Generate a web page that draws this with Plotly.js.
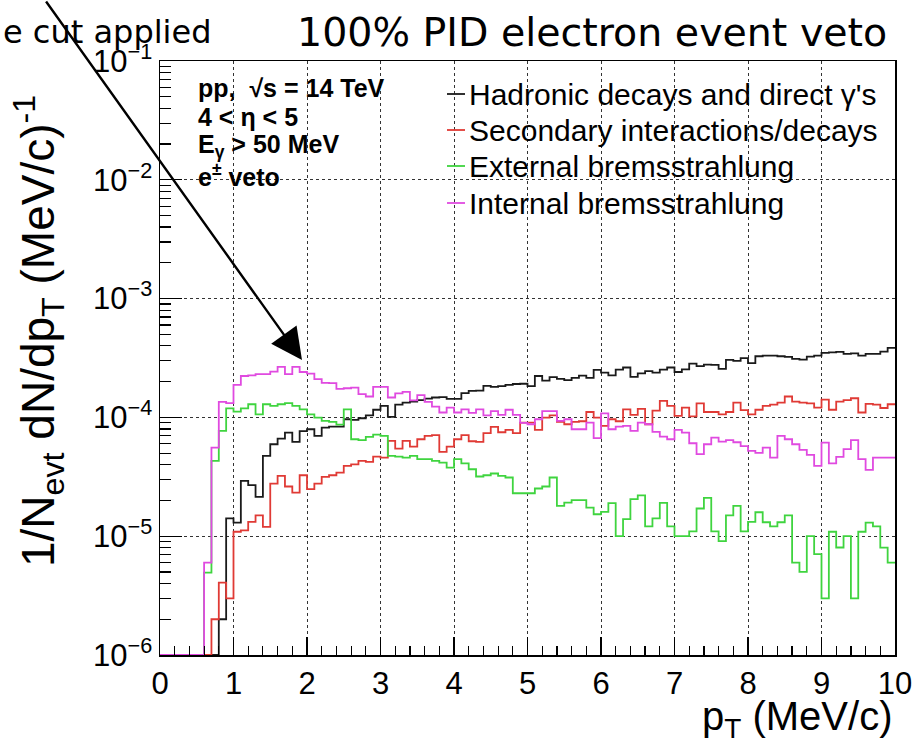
<!DOCTYPE html>
<html>
<head>
<meta charset="utf-8">
<script src="https://cdn.plot.ly/plotly-3.0.1.min.js"></script>
<style>
  html, body { margin: 0; padding: 0; background: #ffffff; }
  #chart { width: 916px; height: 750px; }
</style>
</head>
<body>
<div id="chart"></div>
<script>
// ---------------- DATA ----------------
// lower edges of the 100 pT bins (MeV/c), bin width 0.1
const binLowEdges = [
  0.0,0.1,0.2,0.3,0.4,0.5,0.6,0.7,0.8,0.9,
  1.0,1.1,1.2,1.3,1.4,1.5,1.6,1.7,1.8,1.9,
  2.0,2.1,2.2,2.3,2.4,2.5,2.6,2.7,2.8,2.9,
  3.0,3.1,3.2,3.3,3.4,3.5,3.6,3.7,3.8,3.9,
  4.0,4.1,4.2,4.3,4.4,4.5,4.6,4.7,4.8,4.9,
  5.0,5.1,5.2,5.3,5.4,5.5,5.6,5.7,5.8,5.9,
  6.0,6.1,6.2,6.3,6.4,6.5,6.6,6.7,6.8,6.9,
  7.0,7.1,7.2,7.3,7.4,7.5,7.6,7.7,7.8,7.9,
  8.0,8.1,8.2,8.3,8.4,8.5,8.6,8.7,8.8,8.9,
  9.0,9.1,9.2,9.3,9.4,9.5,9.6,9.7,9.8,9.9
];
const binWidth = 0.1;

// 1/Nevt dN/dpT per bin (0 = empty bin)
const hadronicDirect = [
  0,0,0,0,0,0,0,0,2.0e-6,1.41e-5,
  1.30e-5,2.92e-5,2.69e-5,2.14e-5,4.74e-5,5.94e-5,6.64e-5,7.45e-5,6.22e-5,7.65e-5,
  7.95e-5,6.99e-5,8.21e-5,8.37e-5,8.37e-5,9.65e-5,9.53e-5,9.84e-5,1.04e-4,1.16e-4,
  1.25e-4,1.01e-4,1.28e-4,1.33e-4,1.36e-4,1.40e-4,1.44e-4,1.47e-4,1.48e-4,1.43e-4,
  1.43e-4,1.60e-4,1.67e-4,1.68e-4,1.84e-4,1.81e-4,1.83e-4,1.88e-4,1.91e-4,1.92e-4,
  1.83e-4,2.23e-4,2.04e-4,2.18e-4,2.11e-4,2.06e-4,2.15e-4,2.25e-4,2.15e-4,2.51e-4,
  2.38e-4,2.26e-4,2.52e-4,2.63e-4,2.19e-4,2.35e-4,2.45e-4,2.38e-4,2.52e-4,2.63e-4,
  2.41e-4,2.54e-4,2.84e-4,2.70e-4,2.78e-4,2.77e-4,2.56e-4,3.05e-4,2.99e-4,3.15e-4,
  2.86e-4,3.27e-4,3.31e-4,3.31e-4,3.27e-4,3.23e-4,3.11e-4,3.07e-4,3.25e-4,3.31e-4,
  3.49e-4,3.53e-4,3.56e-4,3.42e-4,3.46e-4,3.31e-4,3.42e-4,3.42e-4,3.58e-4,3.85e-4
];
const secondaryInteractions = [
  0,0,0,0,0,0,0,2.0e-6,4.07e-6,3.0e-6,
  1.09e-5,1.12e-5,1.32e-5,1.50e-5,1.20e-5,2.77e-5,3.22e-5,2.62e-5,2.33e-5,3.26e-5,
  2.49e-5,2.77e-5,3.16e-5,3.26e-5,3.43e-5,3.91e-5,4.03e-5,4.30e-5,4.22e-5,4.68e-5,
  4.59e-5,6.34e-5,5.46e-5,6.34e-5,5.68e-5,6.55e-5,6.99e-5,7.08e-5,5.12e-5,5.68e-5,
  6.55e-5,7.08e-5,6.30e-5,6.22e-5,7.36e-5,8.32e-5,7.50e-5,7.85e-5,7.36e-5,9.05e-5,
  9.05e-5,7.85e-5,9.97e-5,1.04e-4,9.17e-5,8.76e-5,9.17e-5,9.28e-5,1.11e-4,9.97e-5,
  8.48e-5,9.65e-5,9.28e-5,1.17e-4,1.05e-4,1.18e-4,8.76e-5,1.14e-4,1.38e-4,1.25e-4,
  1.03e-4,1.21e-4,1.02e-4,1.31e-4,1.11e-4,1.11e-4,1.06e-4,1.11e-4,1.33e-4,1.15e-4,
  1.06e-4,1.16e-4,1.25e-4,1.28e-4,1.33e-4,1.50e-4,1.36e-4,1.33e-4,1.31e-4,1.21e-4,
  1.41e-4,1.16e-4,1.36e-4,1.40e-4,1.45e-4,1.10e-4,1.30e-4,1.28e-4,1.20e-4,1.29e-4
];
const externalBrems = [
  0,0,0,0,0,0,4.94e-6,4.30e-5,7.70e-5,1.19e-4,
  1.12e-4,1.19e-4,1.29e-4,1.06e-4,1.29e-4,1.25e-4,1.29e-4,1.32e-4,1.25e-4,1.17e-4,
  1.06e-4,9.97e-5,9.34e-5,9.17e-5,8.70e-5,1.17e-4,6.55e-5,6.43e-5,6.85e-5,7.17e-5,
  6.99e-5,4.74e-5,4.68e-5,4.59e-5,4.74e-5,4.45e-5,4.45e-5,4.30e-5,4.17e-5,3.78e-5,
  4.45e-5,4.11e-5,3.66e-5,3.18e-5,3.26e-5,3.37e-5,3.22e-5,3.12e-5,2.30e-5,2.30e-5,
  2.30e-5,2.52e-5,2.62e-5,3.12e-5,1.80e-5,1.92e-5,2.01e-5,2.01e-5,1.74e-5,1.53e-5,
  1.60e-5,1.90e-5,1.0e-5,1.39e-5,2.05e-5,2.21e-5,1.21e-5,1.41e-5,1.91e-5,1.21e-5,
  1.0e-5,1.0e-5,1.10e-5,1.71e-5,2.10e-5,1.10e-5,9.08e-6,1.50e-5,1.80e-5,1.10e-5,
  1.32e-5,1.59e-5,1.31e-5,1.21e-5,1.31e-5,1.50e-5,6.0e-6,5.0e-6,1.0e-5,7.06e-6,
  3.0e-6,1.09e-5,8.03e-6,1.0e-5,3.0e-6,1.09e-5,1.30e-5,1.21e-5,8.0e-6,6.0e-6
];
const internalBrems = [
  0,0,0,0,0,0,6.00e-6,5.57e-5,1.35e-4,1.32e-4,
  1.88e-4,2.23e-4,2.26e-4,2.31e-4,2.31e-4,2.43e-4,2.66e-4,2.31e-4,2.66e-4,2.41e-4,
  2.34e-4,2.10e-4,1.95e-4,1.94e-4,1.74e-4,1.76e-4,1.78e-4,1.57e-4,1.50e-4,1.81e-4,
  1.81e-4,1.47e-4,1.59e-4,1.64e-4,1.39e-4,1.54e-4,1.35e-4,1.23e-4,1.10e-4,1.21e-4,
  1.10e-4,1.17e-4,1.09e-4,1.17e-4,1.04e-4,1.13e-4,1.05e-4,1.16e-4,1.05e-4,8.99e-5,
  8.76e-5,9.65e-5,1.13e-4,1.13e-4,9.34e-5,9.65e-5,7.95e-5,7.95e-5,9.05e-5,6.68e-5,
  1.08e-4,7.95e-5,8.37e-5,8.48e-5,7.70e-5,9.05e-5,8.76e-5,7.55e-5,6.90e-5,6.55e-5,
  7.85e-5,7.45e-5,6.06e-5,4.90e-5,5.94e-5,6.76e-5,6.26e-5,6.43e-5,6.18e-5,5.72e-5,
  5.23e-5,5.03e-5,5.57e-5,4.59e-5,6.99e-5,6.55e-5,5.94e-5,5.33e-5,4.83e-5,3.91e-5,
  6.14e-5,4.11e-5,4.65e-5,5.40e-5,6.43e-5,4.45e-5,3.62e-5,4.59e-5,4.59e-5,4.59e-5
];

const seriesNames = [
  "Hadronic decays and direct γ's",
  "Secondary interactions/decays",
  "External bremsstrahlung",
  "Internal bremsstrahlung"
];
const seriesValues = [hadronicDirect, secondaryInteractions, externalBrems, internalBrems];
const seriesColors = ["#1a1a1a", "#e03a35", "#3fd43f", "#e04ae0"];

const xTickVals = [0,1,2,3,4,5,6,7,8,9,10];
const yTickVals = [1e-6,1e-5,1e-4,1e-3,1e-2,1e-1];
const yTickText = ["10<sup>−6</sup>","10<sup>−5</sup>","10<sup>−4</sup>","10<sup>−3</sup>","10<sup>−2</sup>","10<sup>−1</sup>"];
const yMinorTickVals = [];
yTickVals.slice(0, -1).forEach(d => { for (let m = 2; m <= 9; m++) yMinorTickVals.push(m * d); });

// ---------------- DRAWING ----------------
const Y_FLOOR = yTickVals[0];           // empty bins drawn on the frame bottom, like ROOT
const FONT = "Liberation Sans, Arial, Helvetica, sans-serif";
const TITLE_FONT = "DejaVu Sans, sans-serif";

const traces = seriesValues.map((vals, i) => {
  const xs = binLowEdges.concat([binLowEdges[binLowEdges.length - 1] + binWidth]);
  const ys = vals.map(v => (v > 0 ? v : Y_FLOOR));
  ys.push(ys[ys.length - 1]);
  return {
    type: "scatter",
    mode: "lines",
    name: seriesNames[i],
    x: xs,
    y: ys,
    line: { shape: "hv", color: seriesColors[i], width: 1.8 },
    showlegend: false,
    hoverinfo: "x+y+name"
  };
});

// plot frame in pixels
const W = 916, H = 750;
const M = { l: 160, r: 21, t: 61, b: 95 };
const PW = W - M.l - M.r, PH = H - M.t - M.b;
const px = x => (x - M.l) / PW;          // pixel -> paper
const py = y => (H - M.b - y) / PH;

const textBox = [
  "pp,  √s = 14 TeV",
  "4 &lt; η &lt; 5",
  "E<sub>γ</sub> &gt; 50 MeV",
  "e<sup>±</sup> veto"
];
const textBoxY = [88, 117, 146, 175];
const legendRowY = [94, 130, 166, 203];

const annotations = [
  { xref: "paper", yref: "paper", x: px(889), y: py(32), xanchor: "right", yanchor: "middle",
    text: "100% PID electron event veto", showarrow: false,
    font: { family: TITLE_FONT, size: 39.5, color: "#000" } },
  { xref: "paper", yref: "paper", x: px(213), y: py(32), xanchor: "right", yanchor: "middle",
    text: "e cut applied", showarrow: false,
    font: { family: TITLE_FONT, size: 32, color: "#000" } },
  { xref: "paper", yref: "paper", x: px(894), y: py(719), xanchor: "right", yanchor: "middle",
    text: "p<sub>T</sub> (MeV/c)", showarrow: false,
    font: { family: FONT, size: 40, color: "#000" } },
  { xref: "paper", yref: "paper", x: px(38), y: py(331), xanchor: "center", yanchor: "middle",
    textangle: -90, text: "1/N<sub>evt</sub> dN/dp<sub>T</sub> (MeV/c)<sup>-1</sup>", showarrow: false,
    font: { family: FONT, size: 46, color: "#000" } },
  // arrow pointing at the internal-bremsstrahlung peak
  { xref: "paper", yref: "paper", x: px(302), y: py(360), text: "", showarrow: true,
    axref: "pixel", ayref: "pixel", ax: 45 - 302, ay: -4 - 360,
    arrowhead: 2, arrowsize: 2.6, arrowwidth: 2.4, arrowcolor: "#000", standoff: 0 }
];
textBox.forEach((t, i) => annotations.push({
  xref: "paper", yref: "paper", x: px(196), y: py(textBoxY[i]), xanchor: "left", yanchor: "middle",
  text: t, showarrow: false, font: { family: FONT, size: 25, color: "#000", weight: "bold" }
}));

// legend (ROOT-style: short line + label)
const shapes = [];
seriesNames.forEach((name, i) => {
  annotations.push({
    xref: "paper", yref: "paper", x: px(467), y: py(legendRowY[i]), xanchor: "left", yanchor: "middle",
    text: name, showarrow: false, font: { family: FONT, size: 30, color: "#000" }
  });
  shapes.push({
    type: "line", xref: "paper", yref: "paper",
    x0: px(447), x1: px(465), y0: py(legendRowY[i]), y1: py(legendRowY[i]),
    line: { color: seriesColors[i], width: 1.8 }
  });
});

const layout = {
  width: W, height: H,
  margin: M,
  paper_bgcolor: "#ffffff",
  plot_bgcolor: "#ffffff",
  font: { family: FONT, color: "#000" },
  showlegend: false,
  xaxis: {
    type: "linear", range: [0, 10],
    tickmode: "array", tickvals: xTickVals,
    ticks: "inside", ticklen: 18, tickwidth: 1.3, tickcolor: "#000",
    showline: true, linecolor: "#000", linewidth: 1.5, mirror: true,
    showgrid: true, gridcolor: "#333", griddash: "dot", gridwidth: 1,
    zeroline: false,
    tickfont: { family: FONT, size: 31, color: "#000" },
    minor: { dtick: 0.2, ticks: "inside", ticklen: 9, tickwidth: 1.2, tickcolor: "#000", showgrid: false }
  },
  yaxis: {
    type: "log", range: [Math.log10(yTickVals[0]), Math.log10(yTickVals[yTickVals.length - 1])],
    tickmode: "array", tickvals: yTickVals, ticktext: yTickText,
    ticks: "inside", ticklen: 22, tickwidth: 1.3, tickcolor: "#000",
    showline: true, linecolor: "#000", linewidth: 1.5, mirror: true,
    showgrid: true, gridcolor: "#333", griddash: "dot", gridwidth: 1,
    zeroline: false,
    tickfont: { family: FONT, size: 31, color: "#000" },
    minor: { tickmode: "array", tickvals: yMinorTickVals, ticks: "inside", ticklen: 11, tickwidth: 1.2, tickcolor: "#000", showgrid: false }
  },
  shapes: shapes,
  annotations: annotations
};

Plotly.newPlot("chart", traces, layout, { displayModeBar: false, staticPlot: true });
</script>
</body>
</html>
